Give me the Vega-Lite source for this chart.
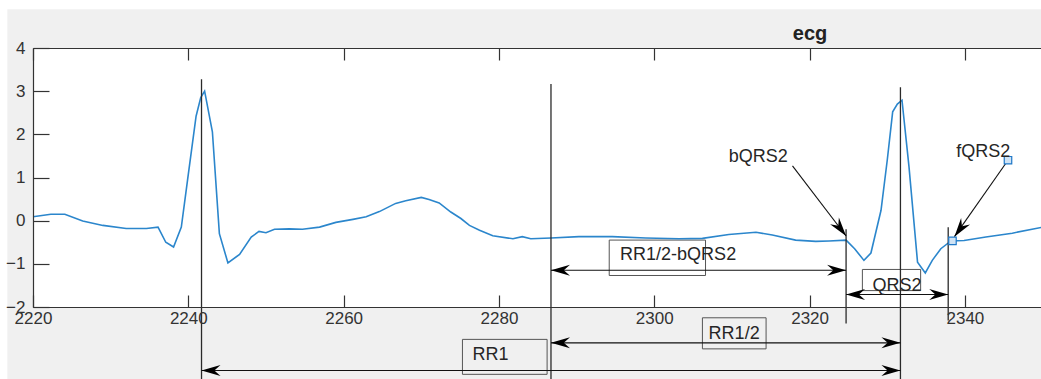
{
  "$schema": "https://vega.github.io/schema/vega-lite/v6.json",
  "width": 1008,
  "height": 259,
  "autosize": {"type": "none"},
  "padding": {"left": 33, "top": 48, "right": 0, "bottom": 72},
  "background": "white",
  "config": {"view": {"stroke": null}, "font": "Liberation Sans"},
  "title": {"text": "ecg", "anchor": "start", "align": "center", "dx": 777, "fontSize": 20, "fontWeight": "bold", "color": "#222222", "baseline": "alphabetic", "offset": -51, "frame": "group", "font": "Liberation Sans"},
  "resolve": {"axis": {"x": "independent", "y": "independent"}},
  "datasets": {
    "bg": [
      {"part": "figure", "x": 2216.7, "x2": 2360, "y": 4.9, "y2": -4.3},
      {"part": "axes", "x": 2220, "x2": 2360, "y": 4, "y2": -2}
    ],
    "ecg": [
      {"x": 2220, "y": 0.09}, {"x": 2222.3, "y": 0.15}, {"x": 2224.1, "y": 0.15}, {"x": 2226.4, "y": -0.01},
      {"x": 2229, "y": -0.11}, {"x": 2232, "y": -0.18}, {"x": 2234.6, "y": -0.18}, {"x": 2236.1, "y": -0.15},
      {"x": 2237.1, "y": -0.5}, {"x": 2238.1, "y": -0.61}, {"x": 2239.1, "y": -0.15}, {"x": 2239.9, "y": 0.94},
      {"x": 2241, "y": 2.42}, {"x": 2241.6, "y": 2.85}, {"x": 2242.1, "y": 3.0}, {"x": 2243.1, "y": 2.06},
      {"x": 2244, "y": -0.3}, {"x": 2245.1, "y": -0.98}, {"x": 2246.6, "y": -0.78}, {"x": 2248.1, "y": -0.38},
      {"x": 2249.1, "y": -0.25}, {"x": 2250, "y": -0.28}, {"x": 2251.1, "y": -0.2}, {"x": 2253, "y": -0.19},
      {"x": 2254.7, "y": -0.2}, {"x": 2256.9, "y": -0.15}, {"x": 2259, "y": -0.04}, {"x": 2261.2, "y": 0.03},
      {"x": 2262.9, "y": 0.09}, {"x": 2264.6, "y": 0.21}, {"x": 2266.7, "y": 0.4}, {"x": 2268, "y": 0.46},
      {"x": 2270, "y": 0.54}, {"x": 2271, "y": 0.49}, {"x": 2272.3, "y": 0.41}, {"x": 2273.8, "y": 0.2},
      {"x": 2275.1, "y": 0.05}, {"x": 2276.2, "y": -0.11}, {"x": 2277.5, "y": -0.22}, {"x": 2279.2, "y": -0.35},
      {"x": 2281.8, "y": -0.42}, {"x": 2283, "y": -0.37}, {"x": 2284.1, "y": -0.42}, {"x": 2286.7, "y": -0.4},
      {"x": 2290.3, "y": -0.37}, {"x": 2294.6, "y": -0.37}, {"x": 2298.9, "y": -0.4}, {"x": 2303.2, "y": -0.42},
      {"x": 2306.2, "y": -0.41}, {"x": 2309.6, "y": -0.32}, {"x": 2313.1, "y": -0.27}, {"x": 2315.2, "y": -0.33},
      {"x": 2318.2, "y": -0.45}, {"x": 2320.8, "y": -0.48}, {"x": 2322.5, "y": -0.47}, {"x": 2324.7, "y": -0.45},
      {"x": 2325.8, "y": -0.65}, {"x": 2327, "y": -0.92}, {"x": 2327.9, "y": -0.75}, {"x": 2329.2, "y": 0.24},
      {"x": 2330, "y": 1.4}, {"x": 2330.7, "y": 2.52}, {"x": 2331.3, "y": 2.7}, {"x": 2331.9, "y": 2.79},
      {"x": 2332.8, "y": 1.25}, {"x": 2333.9, "y": -0.96}, {"x": 2334.9, "y": -1.21}, {"x": 2335.8, "y": -0.92},
      {"x": 2336.9, "y": -0.65}, {"x": 2338.2, "y": -0.47}, {"x": 2339.9, "y": -0.46}, {"x": 2342.7, "y": -0.38},
      {"x": 2346.1, "y": -0.29}, {"x": 2350, "y": -0.15}
    ],
    "vlines": [
      {"x": 2241.7, "y": 3.275, "y2": -3.9},
      {"x": 2286.7, "y": 3.166, "y2": -3.9},
      {"x": 2331.7, "y": 3.09, "y2": -3.9},
      {"x": 2324.7, "y": -0.2, "y2": -2.38},
      {"x": 2337.85, "y": -0.15, "y2": -2.31}
    ],
    "harrows": [
      {"name": "RR1", "x": 2241.7, "x2": 2331.7, "y": -3.47},
      {"name": "RR1/2", "x": 2286.7, "x2": 2331.7, "y": -2.83},
      {"name": "RR1/2-bQRS2", "x": 2286.7, "x2": 2324.7, "y": -1.15},
      {"name": "QRS2", "x": 2324.7, "x2": 2337.85, "y": -1.71}
    ],
    "heads": [
      {"x": 2241.7, "y": -3.47, "dir": "left"}, {"x": 2331.7, "y": -3.47, "dir": "right"},
      {"x": 2286.7, "y": -2.83, "dir": "left"}, {"x": 2331.7, "y": -2.83, "dir": "right"},
      {"x": 2286.7, "y": -1.15, "dir": "left"}, {"x": 2324.7, "y": -1.15, "dir": "right"},
      {"x": 2324.7, "y": -1.71, "dir": "left"}, {"x": 2337.85, "y": -1.71, "dir": "right"}
    ],
    "boxes": [
      {"name": "RR1", "x": 2275.3, "x2": 2286.2, "y": -2.75, "y2": -3.56},
      {"name": "RR1/2", "x": 2306.2, "x2": 2314.4, "y": -2.25, "y2": -2.97},
      {"name": "RR1/2-bQRS2", "x": 2294.2, "x2": 2306.6, "y": -0.45, "y2": -1.27},
      {"name": "QRS2", "x": 2326.8, "x2": 2334.3, "y": -1.13, "y2": -1.62}
    ],
    "texts": [
      {"label": "RR1", "x": 2276.6, "y": -3.12},
      {"label": "RR1/2", "x": 2307.0, "y": -2.62},
      {"label": "RR1/2-bQRS2", "x": 2295.6, "y": -0.8},
      {"label": "QRS2", "x": 2328.1, "y": -1.52},
      {"label": "bQRS2", "x": 2309.6, "y": 1.47},
      {"label": "fQRS2", "x": 2338.9, "y": 1.59}
    ],
    "diag": [
      {"name": "bQRS2", "x": 2317.8, "y": 1.27, "x2": 2324.7, "y2": -0.355},
      {"name": "fQRS2", "x": 2345.55, "y": 1.4, "x2": 2338.65, "y2": -0.37}
    ],
    "markers": [
      {"x": 2345.55, "y": 1.4},
      {"x": 2338.4, "y": -0.47}
    ]
  },
  "layer": [
    {
      "data": {"name": "bg"},
      "mark": {"type": "rect"},
      "encoding": {
        "x": {"field": "x", "type": "quantitative", "scale": {"domain": [2220, 2349.8], "nice": false, "zero": false},
          "axis": {"orient": "top", "values": [2220, 2240, 2260, 2280, 2300, 2320, 2340], "labels": false, "title": null, "grid": false,
            "tickSize": -12, "domainColor": "#333333", "tickColor": "#333333", "domainWidth": 1.2, "tickWidth": 1.2, "zindex": 1}},
        "x2": {"field": "x2"},
        "y": {"field": "y", "type": "quantitative", "scale": {"domain": [-2, 4], "nice": false, "zero": false}, "axis": null},
        "y2": {"field": "y2"},
        "color": {"field": "part", "type": "nominal", "legend": null, "scale": {"domain": ["figure", "axes"], "range": ["#f0f0f0", "#ffffff"]}}
      }
    },
    {
      "data": {"name": "boxes"},
      "mark": {"type": "rect", "fill": null, "filled": false, "stroke": "#555555", "strokeWidth": 1},
      "encoding": {
        "x": {"field": "x", "type": "quantitative", "axis": null}, "x2": {"field": "x2"},
        "y": {"field": "y", "type": "quantitative", "axis": null}, "y2": {"field": "y2"}
      }
    },
    {
      "data": {"name": "ecg"},
      "mark": {"type": "line", "color": "#2b86cc", "strokeWidth": 1.6},
      "encoding": {
        "x": {"field": "x", "type": "quantitative", "scale": {"domain": [2220, 2349.8], "nice": false, "zero": false},
          "axis": {"orient": "bottom", "values": [2220, 2240, 2260, 2280, 2300, 2320, 2340], "format": "d", "title": null, "grid": false,
            "tickSize": -12, "labelPadding": 15, "labelFontSize": 17, "labelFont": "Liberation Sans", "labelColor": "#333333",
            "domainColor": "#333333", "tickColor": "#333333", "domainWidth": 1.2, "tickWidth": 1.2, "labelFlush": false, "labelOverlap": false, "zindex": 1}},
        "y": {"field": "y", "type": "quantitative", "scale": {"domain": [-2, 4], "nice": false, "zero": false},
          "axis": {"orient": "left", "values": [-2, -1, 0, 1, 2, 3, 4], "format": "d", "title": null, "grid": false,
            "tickSize": -16, "labelPadding": 24, "labelFontSize": 17, "labelFont": "Liberation Sans", "labelColor": "#333333",
            "domainColor": "#333333", "tickColor": "#333333", "domainWidth": 1.2, "tickWidth": 1.2, "labelFlush": false, "labelOverlap": false, "zindex": 1}}
      }
    },
    {
      "data": {"name": "vlines"},
      "mark": {"type": "rule", "color": "#2a2a2a", "strokeWidth": 1.3},
      "encoding": {
        "x": {"field": "x", "type": "quantitative", "axis": null},
        "y": {"field": "y", "type": "quantitative", "axis": null}, "y2": {"field": "y2"}
      }
    },
    {
      "data": {"name": "harrows"},
      "mark": {"type": "rule", "color": "#111111", "strokeWidth": 1.1},
      "encoding": {
        "x": {"field": "x", "type": "quantitative", "axis": null}, "x2": {"field": "x2"},
        "y": {"field": "y", "type": "quantitative", "axis": null}
      }
    },
    {
      "data": {"name": "heads"},
      "mark": {"type": "point", "filled": true, "color": "#000000", "opacity": 1, "size": 361, "strokeWidth": 0},
      "encoding": {
        "x": {"field": "x", "type": "quantitative", "axis": null},
        "y": {"field": "y", "type": "quantitative", "axis": null},
        "shape": {"field": "dir", "type": "nominal", "legend": null,
          "scale": {"domain": ["left", "right"], "range": ["M0,0 L2,-0.58 L1.35,0 L2,0.58 Z", "M0,0 L-2,-0.58 L-1.35,0 L-2,0.58 Z"]}}
      }
    },
    {
      "data": {"name": "diag"},
      "mark": {"type": "rule", "color": "#111111", "strokeWidth": 1.1},
      "encoding": {
        "x": {"field": "x", "type": "quantitative", "axis": null}, "x2": {"field": "x2"},
        "y": {"field": "y", "type": "quantitative", "axis": null}, "y2": {"field": "y2"}
      }
    },
    {
      "data": {"name": "diag"},
      "transform": [{"filter": "datum.name == 'bQRS2'"}],
      "mark": {"type": "point", "filled": true, "color": "#000000", "opacity": 1, "size": 361, "strokeWidth": 0, "angle": 52.5,
        "shape": "M0,0 L-2,-0.58 L-1.35,0 L-2,0.58 Z"},
      "encoding": {"x": {"field": "x2", "type": "quantitative", "axis": null}, "y": {"field": "y2", "type": "quantitative", "axis": null}}
    },
    {
      "data": {"name": "diag"},
      "transform": [{"filter": "datum.name == 'fQRS2'"}],
      "mark": {"type": "point", "filled": true, "color": "#000000", "opacity": 1, "size": 361, "strokeWidth": 0, "angle": 126,
        "shape": "M0,0 L-2,-0.58 L-1.35,0 L-2,0.58 Z"},
      "encoding": {"x": {"field": "x2", "type": "quantitative", "axis": null}, "y": {"field": "y2", "type": "quantitative", "axis": null}}
    },
    {
      "data": {"name": "markers"},
      "mark": {"type": "point", "shape": "square", "size": 56, "filled": true, "fill": "#cfe3f5", "stroke": "#1f78c8", "strokeWidth": 1.2, "opacity": 1},
      "encoding": {"x": {"field": "x", "type": "quantitative", "axis": null}, "y": {"field": "y", "type": "quantitative", "axis": null}}
    },
    {
      "data": {"name": "texts"},
      "mark": {"type": "text", "align": "left", "baseline": "middle", "font": "Liberation Sans", "fontSize": 18, "color": "#262626"},
      "encoding": {
        "x": {"field": "x", "type": "quantitative", "axis": null},
        "y": {"field": "y", "type": "quantitative", "axis": null},
        "text": {"field": "label", "type": "nominal"}
      }
    }
  ]
}
